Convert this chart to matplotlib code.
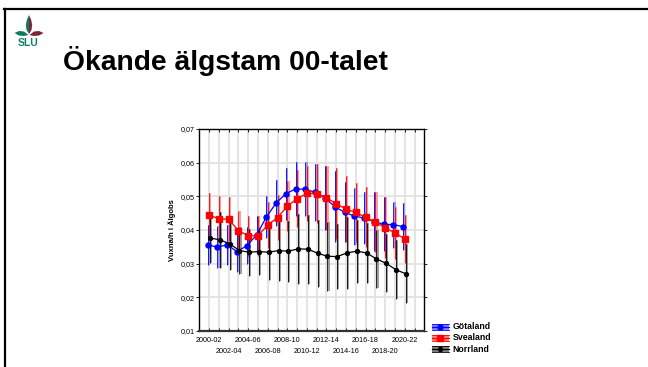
import matplotlib
matplotlib.use("Agg")
import matplotlib.pyplot as plt
from matplotlib.lines import Line2D
from matplotlib.patches import Polygon, Rectangle
import numpy as np

plt.rcParams['font.family'] = ['Liberation Sans', 'DejaVu Sans']

periods = ["2000-02", "2001-03", "2002-04", "2003-05", "2004-06", "2005-07", "2006-08",
           "2007-09", "2008-10", "2009-11", "2010-12", "2011-13", "2012-14", "2013-15",
           "2014-16", "2015-17", "2016-18", "2017-19", "2018-20", "2019-21", "2020-22"]

gotaland = [0.0356, 0.0349, 0.0356, 0.0336, 0.0353, 0.0385, 0.0438, 0.0480, 0.0508, 0.0522,
            0.0521, 0.0512, 0.0496, 0.0469, 0.0453, 0.0441, 0.0436, 0.0425, 0.0417, 0.0416, 0.0410]
gotaland_ci = [0.0060, 0.0062, 0.0060, 0.0062, 0.0055, 0.0056, 0.0063, 0.0069, 0.0077, 0.0079,
               0.0080, 0.0085, 0.0095, 0.0106, 0.0089, 0.0085, 0.0078, 0.0087, 0.0080, 0.0068, 0.0069]

svealand = [0.0445, 0.0433, 0.0432, 0.0398, 0.0383, 0.0383, 0.0415, 0.0437, 0.0471, 0.0493,
            0.0509, 0.0508, 0.0496, 0.0478, 0.0462, 0.0452, 0.0438, 0.0423, 0.0407, 0.0391, 0.0374]
svealand_ci = [0.0064, 0.0068, 0.0066, 0.0058, 0.0059, 0.0059, 0.0067, 0.0068, 0.0075, 0.0085,
               0.0082, 0.0087, 0.0095, 0.0105, 0.0097, 0.0087, 0.0089, 0.0089, 0.0091, 0.0076, 0.0071]

norrland = [0.0376, 0.0371, 0.0359, 0.0339, 0.0334, 0.0336, 0.0334, 0.0339, 0.0337, 0.0344,
            0.0343, 0.0331, 0.0322, 0.0321, 0.0332, 0.0337, 0.0332, 0.0314, 0.0301, 0.0282, 0.0270]
norrland_ci = [0.0075, 0.0083, 0.0079, 0.0069, 0.0070, 0.0069, 0.0082, 0.0089, 0.0090, 0.0104,
               0.0103, 0.0099, 0.0103, 0.0097, 0.0107, 0.0093, 0.0088, 0.0087, 0.0086, 0.0087, 0.0087]

series_names = ["Götaland", "Svealand", "Norrland"]

W, H = 648, 367
fig = plt.figure(figsize=(W / 100, H / 100), dpi=100)
fig.patch.set_facecolor('white')

def fx(px):
    return px / W

def fy(py):
    return 1 - py / H

# slide frame
fig.add_artist(Line2D([fx(4), 1.0], [fy(8.5), fy(8.5)], color='black', lw=1.6))
fig.add_artist(Line2D([fx(4.8), fx(4.8)], [0, fy(8.5)], color='black', lw=1.6))

# logo
lax = fig.add_axes([fx(12), fy(52), fx(52) - fx(12), fy(12) - fy(52)])
lax.set_xlim(12, 52)
lax.set_ylim(52, 12)
lax.axis('off')
green = '#0f7a5a'
maroon = '#7d2439'
lax.add_patch(Polygon([(29, 15), (26.8, 20), (25.8, 25), (26.5, 30), (29, 34)], closed=True, color=green, lw=0))
lax.add_patch(Polygon([(29, 15), (31.2, 20), (32.2, 25), (31.5, 30), (29, 34)], closed=True, color=maroon, lw=0))
lax.add_patch(Polygon([(28.5, 35), (24, 31.5), (19, 31), (14.5, 33), (19, 35.5), (24, 36)], closed=True, color=green, lw=0))
lax.add_patch(Polygon([(29.5, 35), (34, 31.5), (39, 31), (43.5, 33), (39, 35.5), (34, 36)], closed=True, color=maroon, lw=0))
lax.text(28.5, 43.5, "SLU", color='#0f7a6a', fontsize=7.5, fontweight='bold', ha='center', va='center')

# title
fig.text(fx(63), fy(70), "Ökande älgstam 00-talet", fontsize=20.3, fontweight='bold',
         ha='left', va='baseline', color='black')

# main axes
ax = fig.add_axes([fx(199.3), fy(331), fx(424.3) - fx(199.3), fy(129) - fy(331)])
x = np.arange(len(periods))

specs = [
    (gotaland, gotaland_ci, '#0000ff', '#8080ff', 'o', 3.6, -0.15),
    (svealand, svealand_ci, '#ff0000', '#ff8080', 's', 4.2, 0.0),
    (norrland, norrland_ci, '#000000', '#808080', 'o', 2.8, 0.1),
]

for vals, ci, dark, light, mk, ms, off in specs:
    v = np.array(vals)
    c = np.array(ci)
    xs = x + off
    ax.vlines(xs + 0.12, v - c, v + c, colors=light, lw=1.1, zorder=3)
    ax.vlines(xs, v - c, v + c, colors=dark, lw=0.6, zorder=3)

for vals, ci, dark, light, mk, ms, off in specs:
    ax.plot(x + off, vals, color=dark, lw=0.9, marker=mk, ms=ms, zorder=4)

ax.set_xlim(-1, 22)
ax.set_ylim(0.01, 0.07)
ax.set_yticks([0.01, 0.02, 0.03, 0.04, 0.05, 0.06, 0.07])
ax.set_yticklabels([f"{t:.2f}".replace('.', ',') for t in ax.get_yticks()], fontsize=5.2)

row1 = [i for i in range(len(periods)) if i % 4 == 0]
others = [i for i in range(22) if i not in row1]
ax.set_xticks(row1)
ax.set_xticklabels([periods[i] for i in row1], fontsize=5.2)
ax.set_xticks(others, minor=True)
ax.set_xticklabels([periods[i] if (i < len(periods) and i % 2 == 0) else "" for i in others],
                   minor=True, fontsize=5.2)

ax.grid(True, which='both', color='#e2e2e2', lw=1.3, zorder=0)
ax.set_axisbelow(True)
ax.tick_params(axis='both', which='both', length=2, width=0.6, colors='black')
ax.tick_params(axis='y', direction='out', right=True, pad=1.5)
ax.tick_params(axis='x', which='major', direction='in', top=True, pad=4)
ax.tick_params(axis='x', which='minor', direction='in', top=True, pad=12)
for s in ax.spines.values():
    s.set_linewidth(1.0)
    s.set_color('black')
ax.spines['bottom'].set_linewidth(1.6)
ax.spines['bottom'].set_color('#333333')

ax.set_ylabel("Vuxna/h i Älgobs", fontsize=5.5, fontweight='bold', labelpad=3)

# manual legend
leg_rows = [326.7, 337.8, 349.3]
for (vals, ci, dark, light, mk, ms, off), name, py in zip(specs, series_names, leg_rows):
    fig.add_artist(Rectangle((fx(431.5), fy(py + 3.0)), fx(448.5) - fx(431.5), fy(py - 3.0) - fy(py + 3.0),
                             transform=fig.transFigure, facecolor=light, edgecolor='none'))
    for dy in (-3.0, 3.0):
        fig.add_artist(Line2D([fx(431.5), fx(448.5)], [fy(py + dy), fy(py + dy)], color=dark, lw=0.6))
    fig.add_artist(Line2D([fx(431.5), fx(448.5)], [fy(py), fy(py)], color=dark, lw=0.9))
    fig.add_artist(Line2D([fx(440)], [fy(py)], color=dark, marker=mk, ms=ms, lw=0))
    fig.text(fx(452.5), fy(py), name, fontsize=6.3, fontweight='bold', ha='left', va='center')

fig.savefig("out.png", dpi=100, facecolor='white')
